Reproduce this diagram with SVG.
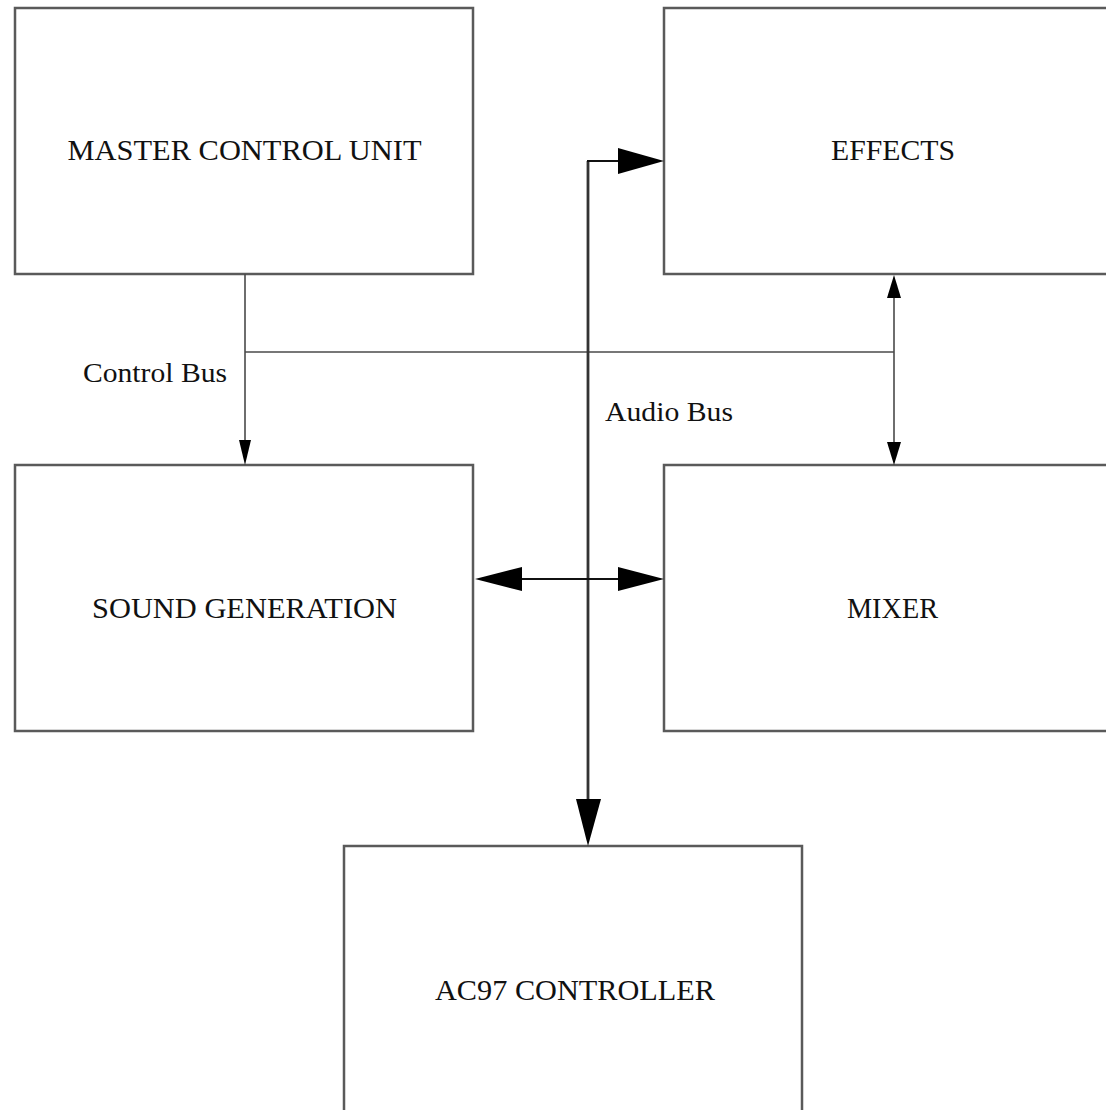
<svg xmlns="http://www.w3.org/2000/svg" width="1106" height="1110" viewBox="0 0 1106 1110">
  <style>
    .box { fill: #ffffff; stroke: #5a5a5a; stroke-width: 2.5; }
    .label { font-family: "Liberation Serif", "DejaVu Serif", serif; font-size: 29px; fill: #111111; text-anchor: middle; }
    .bus-label { font-family: "Liberation Serif", "DejaVu Serif", serif; font-size: 27px; fill: #111111; }
    .ctrl { fill: none; stroke: #4a4a4a; stroke-width: 1.6; }
    .audio-v { fill: none; stroke: #333333; stroke-width: 2.8; }
    .audio-h { fill: none; stroke: #111111; stroke-width: 2; }
    .head { fill: #000000; }
  </style>
  <rect width="1106" height="1110" fill="#ffffff"/>

  <g id="master-control-unit">
    <rect class="box" x="15" y="8" width="458" height="266"/>
    <text class="label" x="244.5" y="160" textLength="354" lengthAdjust="spacingAndGlyphs">MASTER CONTROL UNIT</text>
  </g>
  <g id="effects">
    <rect class="box" x="664" y="8" width="458" height="266"/>
    <text class="label" x="893" y="160" textLength="124" lengthAdjust="spacingAndGlyphs">EFFECTS</text>
  </g>
  <g id="sound-generation">
    <rect class="box" x="15" y="465" width="458" height="266"/>
    <text class="label" x="244.5" y="618" textLength="305" lengthAdjust="spacingAndGlyphs">SOUND GENERATION</text>
  </g>
  <g id="mixer">
    <rect class="box" x="664" y="465" width="458" height="266"/>
    <text class="label" x="892.5" y="618" textLength="91" lengthAdjust="spacingAndGlyphs">MIXER</text>
  </g>
  <g id="ac97-controller">
    <rect class="box" x="344" y="846" width="458" height="266"/>
    <text class="label" x="575" y="1000" textLength="280" lengthAdjust="spacingAndGlyphs">AC97 CONTROLLER</text>
  </g>

  <g id="connectors">
    <!-- control bus -->
    <path class="ctrl" d="M245 274 V442"/>
    <path class="ctrl" d="M245 352 H894"/>
    <path class="ctrl" d="M894 296 V444"/>
    <polygon class="head" points="239,440 251,440 245,465"/>
    <polygon class="head" points="887,298 901,298 894,275"/>
    <polygon class="head" points="887,442 901,442 894,465"/>
    <text class="bus-label" x="83" y="382" textLength="144" lengthAdjust="spacingAndGlyphs">Control Bus</text>

    <!-- audio bus -->
    <path class="audio-v" d="M588 161 V800"/>
    <path class="audio-h" d="M587 161 H620"/>
    <path class="audio-h" d="M520 579 H620"/>
    <polygon class="head" points="618,148 618,174 664,161"/>
    <polygon class="head" points="522,567 522,591 475,579"/>
    <polygon class="head" points="618,567 618,591 664,579"/>
    <polygon class="head" points="576,799 601,799 588,846"/>
    <text class="bus-label" x="605" y="421" textLength="128" lengthAdjust="spacingAndGlyphs">Audio Bus</text>
  </g>
</svg>
